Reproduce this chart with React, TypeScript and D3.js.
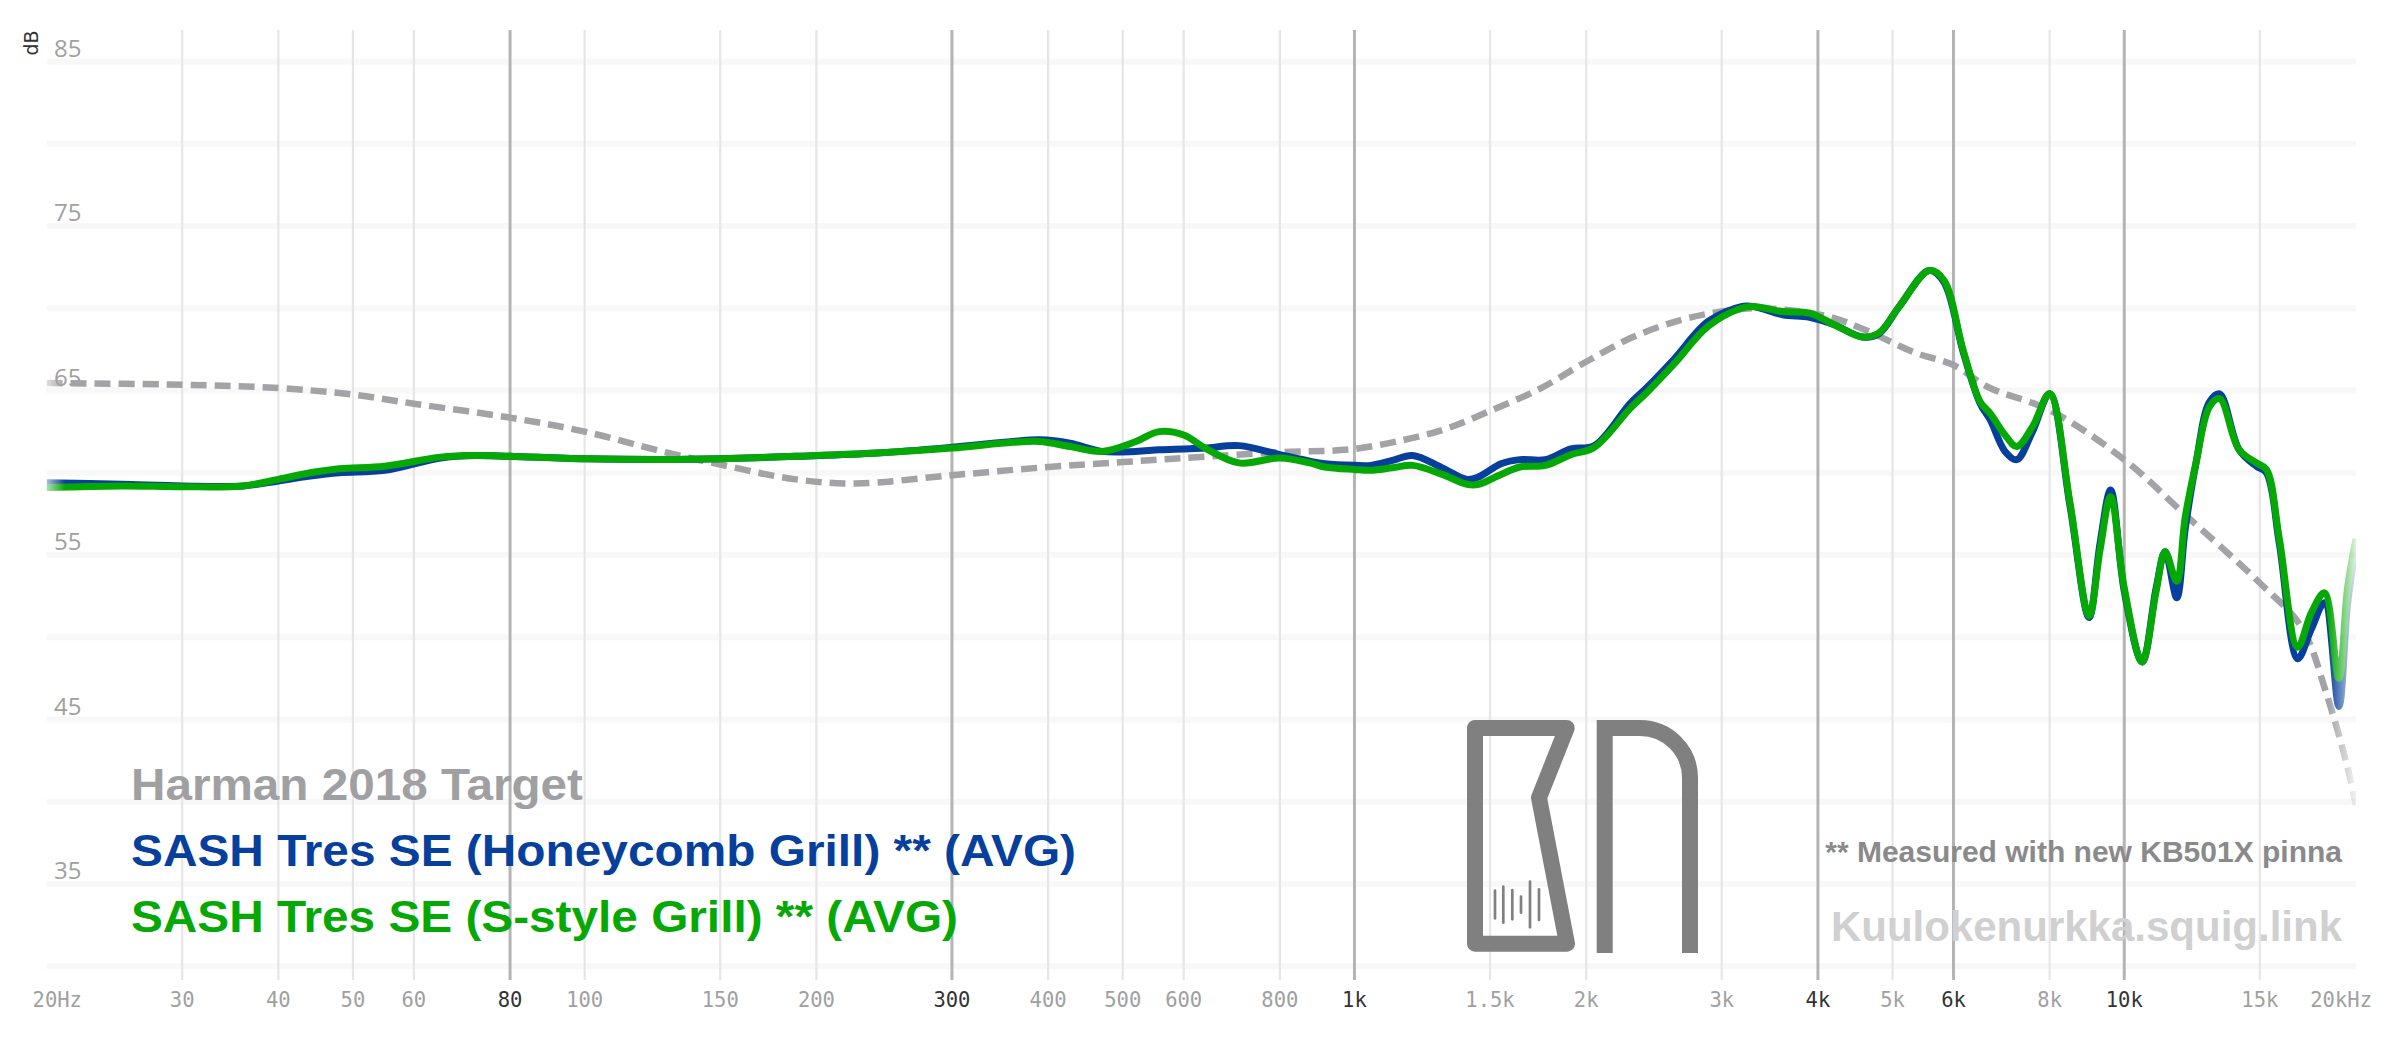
import React from 'react';
import * as d3 from 'd3';

// frequency grid shared by both measurements (Hz)
const freqs = [20, 25, 30, 36, 40, 44, 48, 55, 65, 72, 80, 100, 126, 150, 188, 240, 300, 360, 390, 427, 470, 520, 557, 600, 640, 708, 800, 875, 915, 1000, 1050, 1120, 1190, 1300, 1400, 1450, 1550, 1640, 1770, 1910, 2050, 2280, 2400, 2600, 2880, 3180, 3300, 3600, 3900, 4200, 4570, 4800, 5100, 5580, 5830, 6180, 6500, 6700, 7000, 7250, 7600, 8000, 8500, 9000, 9300, 9600, 10000, 10550, 11000, 11300, 11700, 12000, 12400, 12900, 13300, 14100, 14850, 15300, 15900, 16800, 17500, 18200, 19000, 19500, 20000];

const honeycombDb = [59.4, 59.3, 59.2, 59.2, 59.5, 59.8, 60.0, 60.15, 60.9, 61.05, 61.0, 60.85, 60.8, 60.85, 61.0, 61.2, 61.55, 61.9, 62.0, 61.8, 61.3, 61.3, 61.4, 61.45, 61.5, 61.65, 61.1, 60.7, 60.55, 60.45, 60.45, 60.75, 61.05, 60.3, 59.6, 59.75, 60.55, 60.8, 60.8, 61.45, 61.65, 64.2, 65.2, 66.9, 69.2, 70.1, 70.1, 69.6, 69.45, 69.0, 68.25, 68.45, 70.1, 72.3, 71.6, 67.3, 64.2, 63.2, 61.3, 60.8, 62.5, 64.8, 58.0, 51.2, 55.7, 58.95, 52.8, 48.5, 53.0, 55.2, 52.4, 56.6, 60.65, 64.3, 64.8, 61.4, 60.4, 60.0, 55.7, 48.7, 50.5, 52.1, 45.8, 52.0, 55.5];

const sStyleDb = [59.1, 59.2, 59.15, 59.2, 59.6, 60.0, 60.25, 60.4, 60.95, 61.05, 61.0, 60.85, 60.8, 60.85, 61.0, 61.2, 61.5, 61.85, 61.9, 61.6, 61.3, 61.9, 62.5, 62.3, 61.5, 60.6, 60.9, 60.6, 60.35, 60.2, 60.15, 60.3, 60.45, 59.9, 59.3, 59.3, 59.9, 60.35, 60.45, 61.1, 61.55, 63.9, 64.9, 66.6, 68.9, 70.0, 70.1, 69.8, 69.7, 69.0, 68.25, 68.5, 70.1, 72.3, 71.7, 67.4, 64.3, 63.6, 62.3, 61.6, 62.8, 64.8, 58.2, 51.3, 55.3, 58.55, 53.0, 48.5, 52.8, 55.2, 53.4, 57.3, 60.65, 64.0, 64.5, 61.4, 60.6, 60.2, 56.0, 49.4, 51.5, 52.7, 47.5, 53.0, 56.0];

const targetFreqs = [20, 30, 40, 50, 60, 80, 100, 126, 150, 188, 225, 300, 400, 500, 600, 800, 1000, 1210, 1320, 1490, 1740, 2000, 2300, 2660, 3000, 3300, 3800, 4200, 4600, 5350, 6000, 6660, 8000, 10000, 11900, 15000, 17000, 18300, 19500, 20000];
const targetDb = [65.45, 65.35, 65.15, 64.75, 64.2, 63.35, 62.5, 61.3, 60.5, 59.6, 59.35, 59.85, 60.35, 60.65, 60.9, 61.25, 61.45, 62.2, 62.7, 63.7, 65.1, 66.75, 68.25, 69.3, 69.8, 70.0, 69.8, 69.4, 68.7, 67.3, 66.55, 65.2, 63.8, 60.8, 57.6, 53.3, 50.6, 46.6, 42.1, 39.8];

const xTicks = [20, 30, 40, 50, 60, 80, 100, 150, 200, 300, 400, 500, 600, 800, 1000, 1500, 2000, 3000, 4000, 5000, 6000, 8000, 10000, 15000, 20000];
const xTickLabels = ['20Hz', '30', '40', '50', '60', '80', '100', '150', '200', '300', '400', '500', '600', '800', '1k', '1.5k', '2k', '3k', '4k', '5k', '6k', '8k', '10k', '15k', '20kHz'];
const darkTicks = [80, 300, 1000, 4000, 6000, 10000];
const yLabels = [85, 75, 65, 55, 45, 35];
const yGrid = [30, 35, 40, 45, 50, 55, 60, 65, 70, 75, 80, 85];

const legend = [
    { label: 'Harman 2018 Target', color: '#a0a0a3', len: 452 },
    { label: 'SASH Tres SE (Honeycomb Grill) ** (AVG)', color: '#073f9c', len: 945 },
    { label: 'SASH Tres SE (S-style Grill) ** (AVG)', color: '#05a805', len: 827 },
];

const W = 2400;
const H = 1038;

const App: React.FC = () => {
    const x = d3.scaleLog().domain([20, 20000]).range([46.6, 2356]);
    const y = d3.scaleLinear().domain([30, 85]).range([966.3, 61.5]);

    const line = d3.line<[number, number]>()
        .x(d => x(d[0]))
        .y(d => y(d[1]))
        .curve(d3.curveCatmullRom.alpha(0.5));

    const honeyPath = line(freqs.map((f, i) => [f, honeycombDb[i]])) || '';
    const sStylePath = line(freqs.map((f, i) => [f, sStyleDb[i]])) || '';
    const targetPath = line(targetFreqs.map((f, i) => [f, targetDb[i]])) || '';

    const mono = '"DejaVu Sans Mono", "Liberation Mono", monospace';
    const sans = '"Liberation Sans", Arial, sans-serif';

    return (
        <svg width={W} height={H} style={{ position: 'absolute', left: 0, top: 0, background: '#fff' }}>
            <defs>
                <linearGradient id="fadeGrad" gradientUnits="userSpaceOnUse" x1={x(20)} x2={x(20000)} y1={0} y2={0}>
                    <stop offset="0" stopColor="#555" />
                    <stop offset="0.008" stopColor="#fff" />
                    <stop offset="0.988" stopColor="#fff" />
                    <stop offset="1" stopColor="#222" />
                </linearGradient>
                <mask id="fade" maskUnits="userSpaceOnUse" x={0} y={0} width={W} height={H}>
                    <rect x={x(20)} y={0} width={x(20000) - x(20)} height={H} fill="url(#fadeGrad)" />
                </mask>
            </defs>

            {/* horizontal bands */}
            {yGrid.map(v => (
                <line key={'h' + v} x1={x(20)} x2={x(20000)} y1={y(v)} y2={y(v)}
                      stroke="#f8f8f8" strokeWidth={6} />
            ))}

            {/* vertical grid */}
            {xTicks.filter(f => f > 20 && f < 20000).map(f => {
                const dark = darkTicks.includes(f);
                return (
                    <line key={'v' + f} x1={x(f)} x2={x(f)} y1={30} y2={980}
                          stroke={dark ? '#b4b4b4' : '#e6e6e6'} strokeWidth={dark ? 3 : 2.2} />
                );
            })}

            {/* y labels */}
            {yLabels.map(v => (
                <text key={'yl' + v} x={54} y={y(v) - 5} fontFamily='"Open Sans", "Noto Sans", sans-serif'
                      fontSize={24} fill="#a0a0a0">{v}</text>
            ))}
            <text transform="translate(38,43) rotate(-90)" textAnchor="middle" fontFamily='"DejaVu Sans", sans-serif'
                  fontSize={19} fill="#333">dB</text>

            {/* x labels */}
            {xTicks.map((f, i) => {
                const dark = darkTicks.includes(f);
                const first = i === 0;
                const last = i === xTicks.length - 1;
                return (
                    <text key={'xl' + f}
                          x={first ? x(f) - 14 : last ? x(f) + 16 : x(f)}
                          y={1007}
                          textAnchor={first ? 'start' : last ? 'end' : 'middle'}
                          fontFamily={mono} fontSize={20.5}
                          fill={dark ? '#333' : '#a0a0a0'}>{xTickLabels[i]}</text>
                );
            })}

            {/* logo */}
            <g fill="none" stroke="#808080" strokeWidth={16}>
                <path d="M1475,728 L1566.7,728 L1539,797.7 L1567,943.7 L1475,943.7 Z" strokeLinejoin="round" />
                <path d="M1604.7,953 V728 H1640 A50,50 0 0 1 1690,778 V953" strokeLinejoin="miter" />
                <g strokeWidth={2.7} strokeLinecap="round">
                    <line x1={1495} x2={1495} y1={890.7} y2={918.3} />
                    <line x1={1503.3} x2={1503.3} y1={886.7} y2={922.7} />
                    <line x1={1512.3} x2={1512.3} y1={890} y2={919.3} />
                    <line x1={1521} x2={1521} y1={896.7} y2={912.7} />
                    <line x1={1530} x2={1530} y1={881.7} y2={927.3} />
                    <line x1={1539} x2={1539} y1={889.3} y2={920} />
                </g>
            </g>

            {/* notes */}
            <text x={2342} y={862} textAnchor="end" fontFamily={sans} fontWeight="bold" fontSize={30}
                  fill="#8a8a8a">** Measured with new KB501X pinna</text>
            <text x={2342} y={941} textAnchor="end" fontFamily={sans} fontWeight="bold" fontSize={42}
                  fill="#d0d0d0">Kuulokenurkka.squig.link</text>

            {/* legend */}
            {legend.map((l, i) => (
                <text key={l.label} x={131} y={800 + i * 66} fontFamily={sans} fontWeight="bold" fontSize={45}
                      textLength={l.len} lengthAdjust="spacingAndGlyphs" fill={l.color}>{l.label}</text>
            ))}

            {/* curves */}
            <g mask="url(#fade)" fill="none">
                <path d={targetPath} stroke="#a3a2a7" strokeWidth={6.5} strokeDasharray="16 8" />
                <path d={honeyPath} stroke="#073f9c" strokeWidth={7} strokeLinejoin="round" />
                <path d={sStylePath} stroke="#05a805" strokeWidth={7} strokeLinejoin="round" />
            </g>
        </svg>
    );
};

export default App;
